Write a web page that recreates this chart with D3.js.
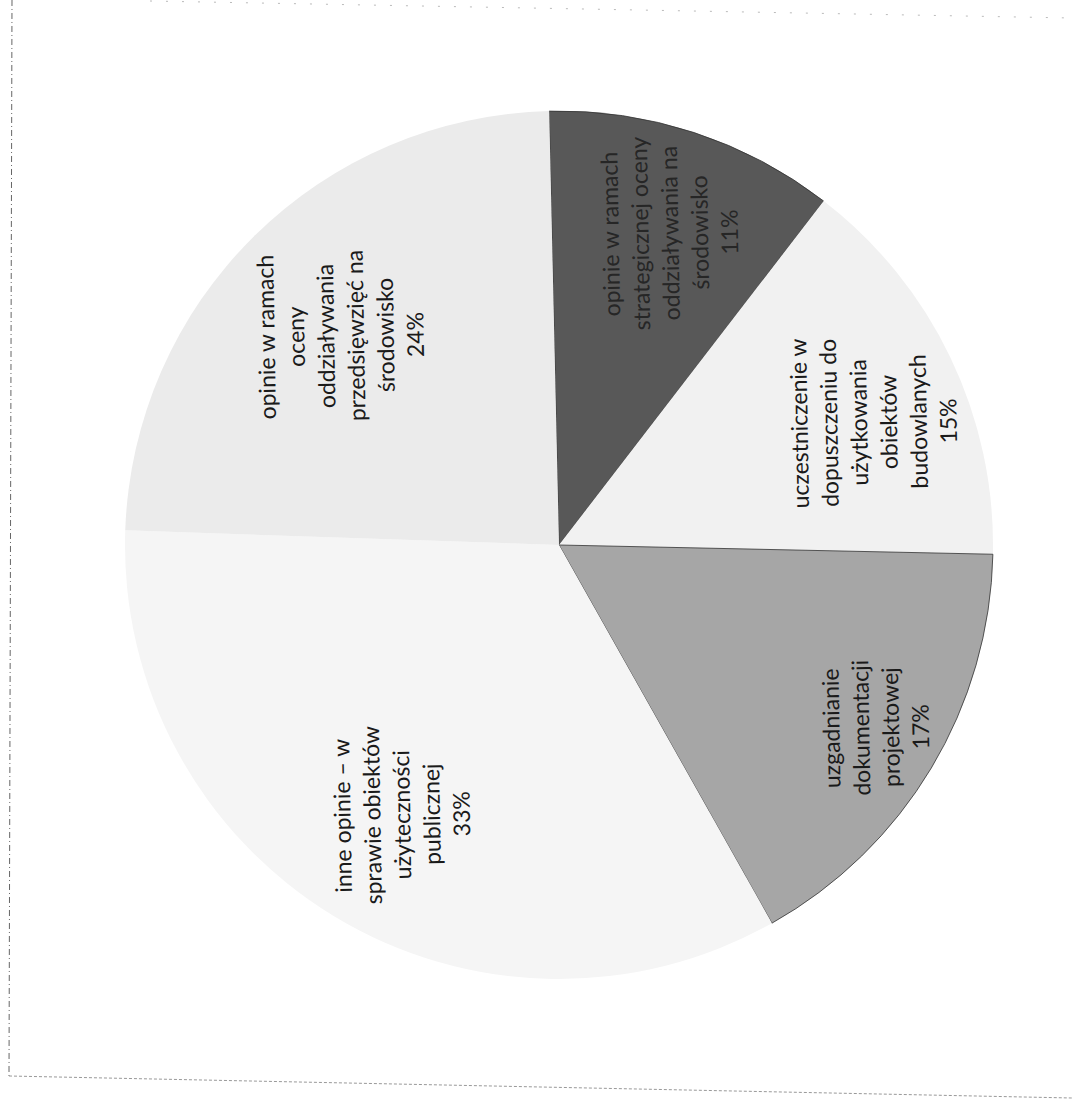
<!DOCTYPE html>
<html><head><meta charset="utf-8">
<script src="https://cdn.jsdelivr.net/npm/d3@7/dist/d3.min.js"></script>
<style>html,body{margin:0;padding:0;background:#fff;}svg{display:block;}</style>
</head><body>
<svg id="c" width="1072" height="1107"></svg>
<script>
// Data (clockwise from 12 o'clock, as drawn)
const categories = [
  "opinie w ramach strategicznej oceny oddziaływania na środowisko",
  "uczestniczenie w dopuszczeniu do użytkowania obiektów budowlanych",
  "uzgadnianie dokumentacji projektowej",
  "inne opinie – w sprawie obiektów użyteczności publicznej",
  "opinie w ramach oceny oddziaływania przedsięwzięć na środowisko"
];
const shares = [10.8, 14.9, 16.5, 33.7, 24.1];
const pctLabels = ["11%", "15%", "17%", "33%", "24%"];
const labelLines = [
  ["opinie w ramach", "strategicznej oceny", "oddziaływania na", "środowisko"],
  ["uczestniczenie w", "dopuszczeniu do", "użytkowania", "obiektów", "budowlanych"],
  ["uzgadnianie", "dokumentacji", "projektowej"],
  ["inne opinie – w", "sprawie obiektów", "użyteczności", "publicznej"],
  ["opinie w ramach", "oceny", "oddziaływania", "przedsięwzięć na", "środowisko"]
];

const svg = d3.select("#c");
const cx = 559, cy = 545, R = 434;
const fills = ["#585858", "#f1f1f1", "#a6a6a6", "#f5f5f5", "#ebebeb"];
const textFill = ["#262626", "#1a1a1a", "#1a1a1a", "#1a1a1a", "#1a1a1a"];
// label placement (fraction of radius, offset from slice mid-angle in degrees)
const labelR = [0.763, 0.779, 0.843, 0.719, 0.696];
const labelDa = [1.5, 4.3, -1.0, -1.1, -1.5];

// scan border
svg.append("line").attr("x1", 12).attr("y1", 0).attr("x2", 9).attr("y2", 1076)
  .attr("stroke", "#666").attr("stroke-width", 1).attr("stroke-dasharray", "6,3,1,3");
svg.append("line").attr("x1", 9).attr("y1", 1076).attr("x2", 1072).attr("y2", 1098)
  .attr("stroke", "#999").attr("stroke-width", 1).attr("stroke-dasharray", "3,2");
svg.append("line").attr("x1", 150).attr("y1", 1).attr("x2", 1072).attr("y2", 18)
  .attr("stroke", "#bbb").attr("stroke-width", 1).attr("stroke-dasharray", "2,14");

const off = -1.3 * Math.PI / 180;
const pie = d3.pie().sort(null).value(d => d)
  .startAngle(off).endAngle(2 * Math.PI + off);
const arcs = pie(shares);
const arc = d3.arc().innerRadius(0).outerRadius(R);

const g = svg.append("g").attr("transform", `translate(${cx},${cy})`);
g.selectAll("path.slice").data(arcs).join("path")
  .attr("class", "slice")
  .attr("d", arc)
  .attr("fill", (d, i) => fills[i])
  .attr("stroke", (d, i) => i === 0 || i === 2 ? "#333" : "none")
  .attr("stroke-width", 0.8);

const fs = 23, lh = 29.8;
arcs.forEach((a, i) => {
  const ang = (a.startAngle + a.endAngle) / 2 + labelDa[i] * Math.PI / 180;
  const r = R * labelR[i];
  const x = r * Math.sin(ang), y = -r * Math.cos(ang);
  const lines = labelLines[i].concat([pctLabels[i]]);
  const t = g.append("text")
    .attr("transform", `translate(${x},${y}) rotate(-91)`)
    .attr("text-anchor", "middle")
    .attr("font-family", "Lato, 'Open Sans', sans-serif")
    .attr("font-size", fs)
    .attr("fill", textFill[i]);
  lines.forEach((ln, k) => {
    t.append("tspan").attr("x", 0)
      .attr("y", (k - (lines.length - 1) / 2) * lh)
      .attr("dy", "0.35em")
      .text(ln);
  });
});
</script>
</body></html>
